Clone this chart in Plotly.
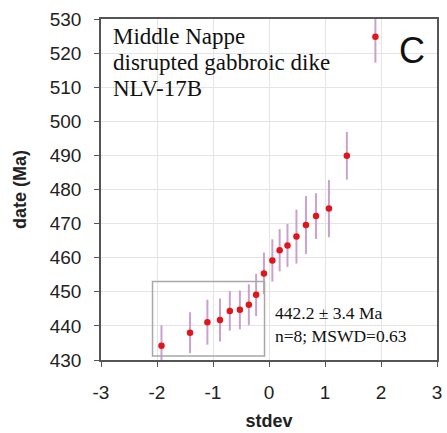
import plotly.graph_objects as go

# data
stdev = [-1.92, -1.41, -1.10, -0.875, -0.70, -0.52, -0.36, -0.23, -0.09, 0.06,
         0.19, 0.33, 0.49, 0.66, 0.84, 1.07, 1.39, 1.90]
date_ma = [434.2, 438.0, 441.1, 441.7, 444.4, 444.7, 446.2, 449.1, 455.4, 459.2,
           462.2, 463.6, 466.2, 469.6, 472.2, 474.4, 489.9, 524.8]
err_ma = [6.0, 6.0, 6.6, 6.3, 5.8, 5.7, 6.0, 6.2, 6.1, 6.2,
          6.2, 6.3, 7.9, 8.5, 6.7, 8.4, 7.0, 7.6]

box_x = [-2.08, -0.08]
box_y = [431.2, 453.0]

x_ticks = [-3, -2, -1, 0, 1, 2, 3]
y_ticks = list(range(430, 531, 10))

label_lines = ["Middle Nappe", "disrupted gabbroic dike", "NLV-17B"]
label_y = [0.950, 0.871, 0.795]
stat_lines = ["442.2 ± 3.4 Ma", "n=8; MSWD=0.63"]

fig = go.Figure()
fig.add_trace(go.Scatter(
    x=stdev, y=date_ma, mode="markers",
    marker=dict(color="#e0161b", size=6.5),
    error_y=dict(type="data", array=err_ma, visible=True, color="#c9a0d0",
                 thickness=2, width=0),
    cliponaxis=False, showlegend=False,
))

fig.add_shape(type="rect", x0=box_x[0], x1=box_x[1], y0=box_y[0], y1=box_y[1],
              line=dict(color="#a8a8a8", width=1.5), xref="x", yref="y")

for txt, yy in zip(label_lines, label_y):
    fig.add_annotation(x=0.03, y=yy, xref="paper", yref="paper", xanchor="left", yanchor="middle",
                       showarrow=False, text=txt,
                       font=dict(family="Liberation Serif", size=23, color="#111111"))
fig.add_annotation(x=0.925, y=0.909, xref="paper", yref="paper", xanchor="center", yanchor="middle",
                   showarrow=False, text="C",
                   font=dict(family="Liberation Sans", size=36, color="#111111"))
fig.add_annotation(x=0.065, y=0.105, xref="x", yref="paper", xanchor="left", yanchor="middle",
                   align="left", showarrow=False, text="<br>".join(stat_lines),
                   font=dict(family="Liberation Serif", size=17.5, color="#111111"))

axis_common = dict(showgrid=True, gridcolor="#e4e4e4", gridwidth=1,
                   showline=True, linecolor="#555555", linewidth=1.5, mirror=True,
                   ticks="outside", ticklen=5, tickcolor="#555555",
                   tickfont=dict(family="Liberation Sans", size=19, color="#222222"),
                   zeroline=False)

fig.update_xaxes(range=[-3, 3], tickvals=x_ticks, ticktext=[str(v) for v in x_ticks],
                 ticklabelstandoff=9,
                 title=dict(text="<b>stdev</b>", font=dict(family="Liberation Sans", size=18, color="#222222"),
                            standoff=13),
                 **axis_common)
fig.update_yaxes(range=[430, 530], tickvals=y_ticks, ticklabelstandoff=9,
                 title=dict(text="<b>date (Ma)</b>", font=dict(family="Liberation Sans", size=18, color="#222222"),
                            standoff=18),
                 **axis_common)

fig.update_layout(width=447, height=433, margin=dict(l=101, r=5, t=19, b=73),
                  plot_bgcolor="white", paper_bgcolor="white")

fig.write_html("out.html")
